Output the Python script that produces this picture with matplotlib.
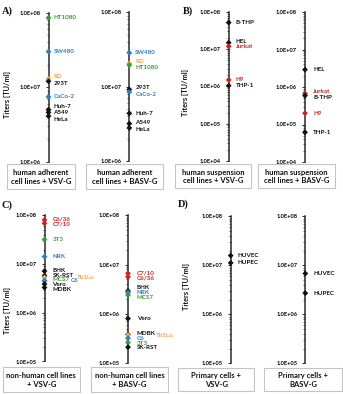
import matplotlib
matplotlib.use('Agg')
import matplotlib.pyplot as plt
from matplotlib.patches import Rectangle
from matplotlib.ticker import FixedLocator, FixedFormatter, LogLocator, NullFormatter
import numpy as np

plt.rcParams['font.family'] = ['Lato', 'DejaVu Sans']

K = '#111111'
G = '#3a9a36'
B = '#2e7cc4'
O = '#f0a24e'
R = '#cc2222'

# ---------------- data ----------------
a_vsv_names = ['HT1080', 'SW480', 'RD', '293T', 'CaCo-2', 'Huh-7', 'A549', 'HeLa']
a_vsv_vals = [8.5e7, 3.0e7, 1.3e7, 1.2e7, 7.4e6, 5.0e6, 4.6e6, 4.1e6]
a_vsv_cols = [G, B, O, K, B, K, K, K]

a_basv_names = ['SW480', 'RD', 'HT1080', '293T', 'CaCo-2', 'Huh-7', 'A549', 'HeLa']
a_basv_vals = [2.85e7, 2.05e7, 1.95e7, 9.2e6, 8.5e6, 4.4e6, 3.2e6, 2.8e6]
a_basv_cols = [B, O, G, K, B, K, K, K]

b_vsv_names = ['B-THP', 'HEL', 'Jurkat', 'H9', 'THP-1']
b_vsv_vals = [5.2e7, 1.5e7, 1.2e7, 1.5e6, 1.05e6]
b_vsv_cols = [K, K, R, R, K]

b_basv_names = ['HEL', 'Jurkat', 'B-THP', 'H9', 'THP-1']
b_basv_vals = [2.9e6, 6.7e5, 5.9e5, 2.0e5, 6.2e4]
b_basv_cols = [K, R, K, R, K]

c_vsv_names = ['C6/36', 'C7/10', '3T3', 'NRK', 'BHK', 'SK-RST', 'Tb1Lu', 'MCS7', 'C6', 'Vero', 'MDBK']
c_vsv_vals = [8.1e7, 6.9e7, 3.2e7, 1.43e7, 7.2e6, 5.8e6, 5.3e6, 4.5e6, 4.6e6, 3.9e6, 3.3e6]
c_vsv_cols = [R, R, G, B, K, K, O, G, B, K, K]

c_basv_names = ['C7/10', 'C6/36', 'BHK', 'NRK', 'MCS7', 'Vero', 'MDBK', 'Tb1Lu', 'C6', '3T3', 'SK-RST']
c_basv_vals = [6.6e6, 5.6e6, 2.9e6, 2.7e6, 2.4e6, 8.0e5, 3.8e5, 3.7e5, 3.2e5, 2.6e5, 2.1e5]
c_basv_cols = [R, R, K, B, G, K, K, O, B, G, K]

d_vsv_names = ['HUVEC', 'HUPEC']
d_vsv_vals = [1.58e7, 1.12e7]
d_vsv_cols = [K, K]

d_basv_names = ['HUVEC', 'HUPEC']
d_basv_vals = [6.8e6, 2.7e6]
d_basv_cols = [K, K]

# ---------------- layout ----------------
W, H = 343, 394
DPI = 100
fig = plt.figure(figsize=(W / DPI, H / DPI), dpi=DPI)
PT = 72.0 / DPI  # points per pixel
LBL = 4.5


def fx(x):
    return x / W


def fy(y):
    return 1 - y / H


def spread(ys, gap):
    ys = list(ys)
    for _ in range(500):
        moved = False
        for i in range(len(ys) - 1):
            d = ys[i] - ys[i + 1]  # ys sorted high->low (display coords)
            if d < gap - 1e-6:
                push = (gap - d) / 2
                ys[i] += push
                ys[i + 1] -= push
                moved = True
        if not moved:
            break
    return ys


def panel(x, ytop, ybot, lo, hi, names, vals, cols, dx=7.5, gap=6.5,
          side=None):
    side = side or {}
    ax = fig.add_axes([fx(x), fy(ybot), 45 / W, (ybot - ytop) / H])
    ax.set_yscale('log')
    ax.set_ylim(lo, hi)
    ax.set_xlim(0, 1)
    ax.patch.set_visible(False)
    for s in ['top', 'right', 'bottom']:
        ax.spines[s].set_visible(False)
    ax.spines['left'].set_color('#2a2a2a')
    ax.spines['left'].set_linewidth(1.1)
    ax.set_xticks([])
    exps = list(range(int(round(np.log10(lo))), int(round(np.log10(hi))) + 1))
    ax.yaxis.set_major_locator(FixedLocator([10.0 ** e for e in exps]))
    ax.yaxis.set_major_formatter(FixedFormatter(['1.0E+%02d' % e for e in exps]))
    ax.yaxis.set_minor_locator(LogLocator(base=10, subs=np.arange(2, 10)))
    ax.yaxis.set_minor_formatter(NullFormatter())
    ax.tick_params(axis='y', which='major', length=2.5, width=0.7,
                   color='#2a2a2a', labelsize=4.1, pad=3.2)
    ax.tick_params(axis='y', which='minor', length=1.6, width=0.5,
                   color='#2a2a2a')
    for lab in ax.get_yticklabels():
        lab.set_fontweight('bold')

    ax.scatter(np.zeros(len(vals)), vals, marker='D', s=9, c=cols,
               zorder=3, clip_on=False, linewidths=0)

    col_idx = [i for i in range(len(names)) if names[i] not in side]
    col_idx.sort(key=lambda i: -vals[i])
    disp = [ax.transData.transform((0, vals[i]))[1] for i in col_idx]
    new = spread(disp, gap)
    for i, d0, d1 in zip(col_idx, disp, new):
        ax.annotate(names[i], xy=(0, vals[i]), xytext=(dx * PT, (d1 - d0) * PT),
                    textcoords='offset points', ha='left', va='center',
                    fontsize=LBL, fontweight='bold', color=cols[i],
                    annotation_clip=False)
    for i, n in enumerate(names):
        if n in side:
            sdx, sdy = side[n]
            ax.annotate(n, xy=(0, vals[i]), xytext=(sdx * PT, sdy * PT),
                        textcoords='offset points', ha='left', va='center',
                        fontsize=LBL, fontweight='bold', color=cols[i],
                        annotation_clip=False)
    return ax


# Panel A
panel(48.5, 12.6, 161.8, 1e6, 1e8, a_vsv_names, a_vsv_vals, a_vsv_cols, dx=5, gap=6.6)
panel(129.3, 12.2, 161.3, 1e6, 1e8, a_basv_names, a_basv_vals, a_basv_cols, dx=6, gap=6.6)
# Panel B
panel(228.7, 12.0, 161.0, 1e4, 1e8, b_vsv_names, b_vsv_vals, b_vsv_cols, dx=7.3, gap=5.0)
panel(305.0, 12.0, 162.0, 1e4, 1e8, b_basv_names, b_basv_vals, b_basv_cols, dx=8, gap=6.0)
# Panel C
panel(44.5, 215.5, 361.5, 1e5, 1e8, c_vsv_names, c_vsv_vals, c_vsv_cols, dx=8, gap=4.9,
      side={'C6': (26, 0), 'Tb1Lu': (32.5, 0)})
panel(128.0, 215.3, 363.0, 1e5, 1e8, c_basv_names, c_basv_vals, c_basv_cols, dx=8.7, gap=4.9,
      side={'Tb1Lu': (27.7, 0)})
# Panel D
panel(230.7, 216.3, 363.3, 1e5, 1e8, d_vsv_names, d_vsv_vals, d_vsv_cols, dx=7, gap=6)
panel(305.3, 216.3, 363.3, 1e5, 1e8, d_basv_names, d_basv_vals, d_basv_cols, dx=8.4, gap=6)

# Boxes with captions
boxes = [
    (7, 164, 75, 188.5, 'human adherent\ncell lines + VSV-G'),
    (86, 164, 163, 188.5, 'human adherent\ncell lines + BASV-G'),
    (175.3, 163.5, 251, 188, 'human suspension\ncell lines + VSV-G'),
    (257.7, 163.5, 335, 188, 'human suspension\ncell lines + BASV-G'),
    (2.7, 367, 80, 392, 'non-human cell lines\n+ VSV-G'),
    (90.7, 367, 168.3, 392, 'non-human cell lines\n+ BASV-G'),
    (178, 367.7, 254.3, 390.5, 'Primary cells +\nVSV-G'),
    (264.3, 367.7, 342, 390.5, 'Primary cells +\nBASV-G'),
]
for x0, y0, x1, y1, txt in boxes:
    fig.patches.append(Rectangle((fx(x0), fy(y1)), (x1 - x0) / W, (y1 - y0) / H,
                                 transform=fig.transFigure, facecolor='white',
                                 edgecolor='#c4c4c4', linewidth=0.8))
    fig.text(fx((x0 + x1) / 2), fy((y0 + y1) / 2 + 0.8), txt, ha='center', va='center',
             fontsize=5.5, fontweight='bold', color='#111111', linespacing=1.3)

# Y labels
for x, y in [(8, 94), (185.3, 92), (7.3, 310), (187, 287)]:
    fig.text(fx(x), fy(y), 'Titers [TU/ml]', rotation=90, ha='center', va='center',
             fontsize=5.3, fontweight='bold', color='#111111')

# Panel letters
for x, y, t in [(2, 11, 'A)'), (183, 11, 'B)'), (2, 205, 'C)'), (178, 204, 'D)')]:
    fig.text(fx(x), fy(y), t, ha='left', va='center', fontsize=7.5,
             fontweight='bold', family='Liberation Serif', color='#111111')

fig.savefig('out.png', dpi=DPI)
